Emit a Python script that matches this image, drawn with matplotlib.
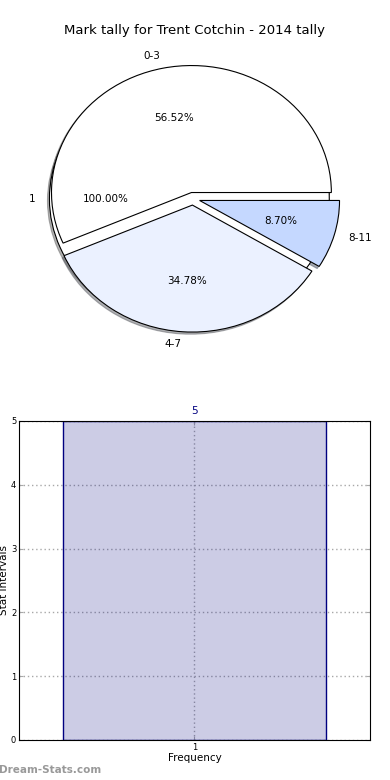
import matplotlib
matplotlib.use("Agg")
import matplotlib.pyplot as plt

# pie data
all_labels = ["1"]
all_values = [1]
mark_labels = ["0-3", "4-7", "8-11"]
mark_values = [13, 8, 2]
mark_colors = ["#ffffff", "#ebf1ff", "#c5d8ff"]

# bar data
bar_x = [1]
bar_values = [5]
bar_ticks = [0, 1, 2, 3, 4, 5]

fig = plt.figure(figsize=(3.9, 7.8), dpi=100)

shadow_kw = {"ox": -0.01, "oy": -0.012, "shade": 0.6}
wedge_kw = {"edgecolor": "black", "linewidth": 0.8}

# top: pie (a single full wedge under the tally wedges)
ax1 = fig.add_axes([0.046, 0.5417, 0.897, 0.407])
ax1.pie(all_values, labels=all_labels, autopct="%1.2f%%", colors=["#ffffff"],
        explode=[0.025], shadow=shadow_kw, wedgeprops=wedge_kw,
        textprops={"fontsize": 7.5})
ax1.pie(mark_values, labels=mark_labels, autopct="%1.2f%%", colors=mark_colors,
        explode=[0.05] * len(mark_values), shadow=shadow_kw,
        wedgeprops=wedge_kw, textprops={"fontsize": 7.5})
ax1.set_aspect("auto")
ax1.set_xlim(-1.25, 1.25)
ax1.set_ylim(-1.25, 1.25)
fig.text(0.5, 0.9615, "Mark tally for Trent Cotchin - 2014 tally",
         ha="center", va="center", fontsize=9.5)

# bottom: bar
ax2 = fig.add_axes([0.0487, 0.0513, 0.9, 0.409])
bars = ax2.bar(bar_x, bar_values, width=0.8, color=(0, 0, 0.5, 0.2),
               edgecolor="navy", linewidth=1, zorder=2)
for b, v in zip(bars, bar_values):
    ax2.text(b.get_x() + b.get_width() / 2, v + 0.07, str(v), ha="center",
             va="bottom", color="navy", fontsize=7.5)
ax2.set_xlim(1 - 0.532, 1 + 0.532)
ax2.set_ylim(0, 5)
ax2.set_yticks(bar_ticks)
ax2.set_xticks(bar_x)
ax2.grid(True, linestyle=(0, (1, 2)), color="#a8a8a8", linewidth=1, zorder=3)
ax2.tick_params(direction="in", length=3, labelsize=6, top=True, right=True,
                pad=2, color="#a8a8a8")
ax2.set_xlabel("Frequency", fontsize=7.5, labelpad=1)
ax2.set_ylabel("Stat Intervals", fontsize=7.5)
ax2.yaxis.set_label_coords(-0.028, 0.5)
for s in ax2.spines.values():
    s.set_linewidth(0.8)

fig.text(-0.003, 0.006, "Dream-Stats.com", color="#999999", fontsize=7.5,
         fontweight="bold", ha="left", va="bottom")

fig.savefig("out.png", dpi=100)
